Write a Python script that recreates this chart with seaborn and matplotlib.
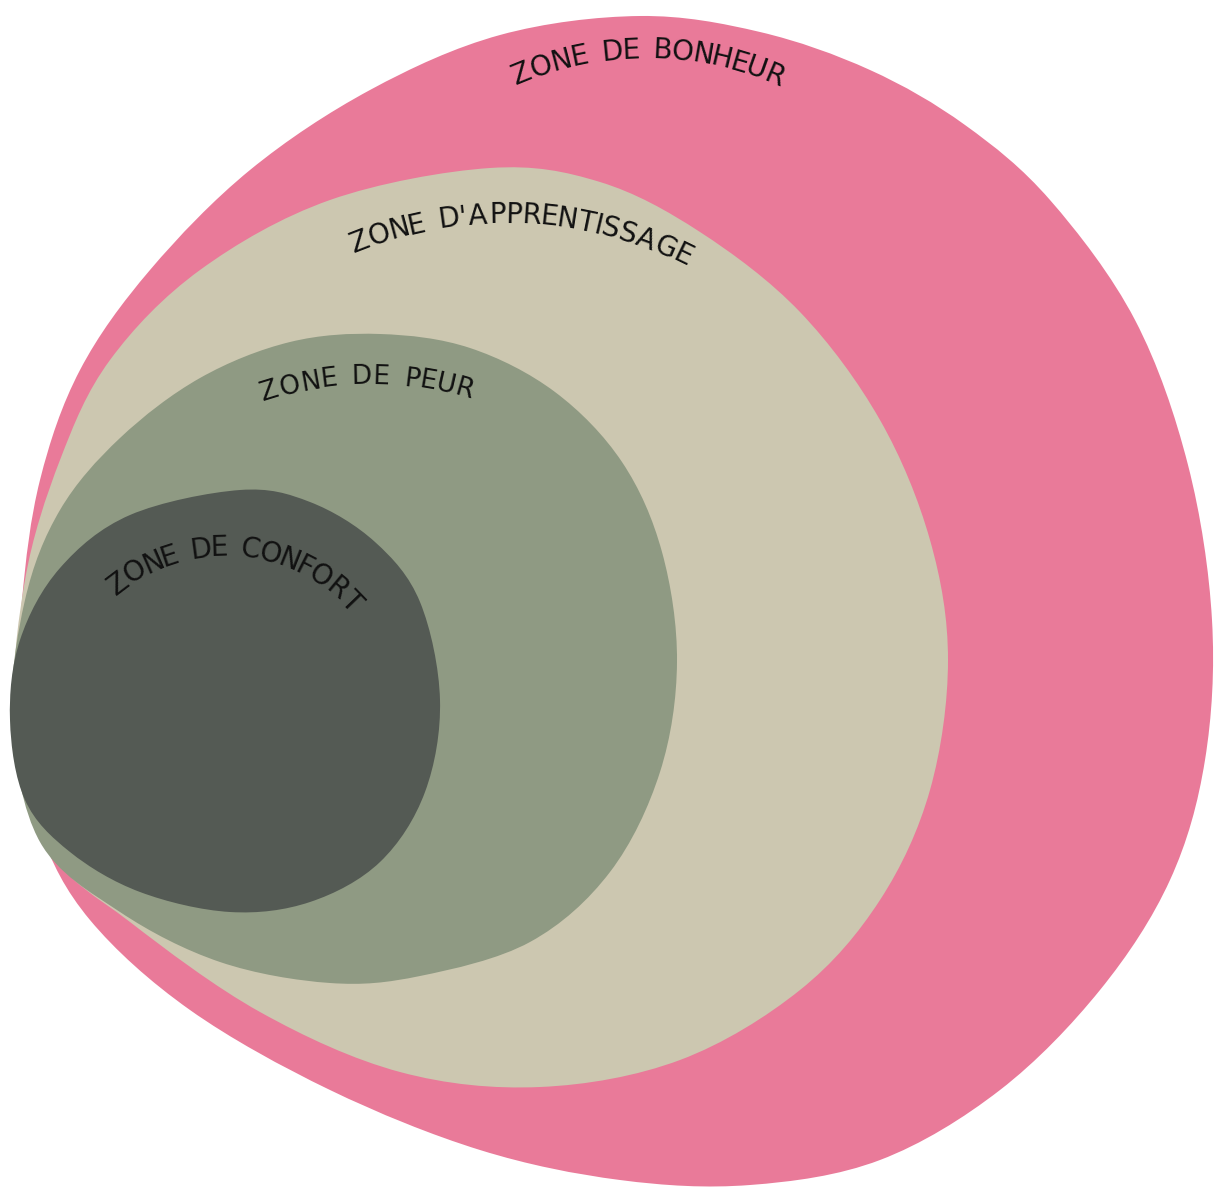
import numpy as np
import matplotlib
matplotlib.use("Agg")
import matplotlib.pyplot as plt
from matplotlib.path import Path
from matplotlib.patches import PathPatch
from matplotlib.textpath import TextPath
from matplotlib.font_manager import FontProperties
import seaborn as sns

# zone names, from outer to inner
zones = ["ZONE DE BONHEUR", "ZONE D'APPRENTISSAGE", "ZONE DE PEUR", "ZONE DE CONFORT"]
zone_colors = ["#E97A99", "#CCC7B0", "#8F9A83", "#545A54"]

# outlines (pixels, y down)
bonheur_x = [640, 760, 870, 965, 1050, 1135, 1188, 1212, 1205, 1170, 1100, 1000, 880, 750,
             620, 480, 330, 190, 90, 40, 18, 22, 40, 80, 150, 250, 370, 500]
bonheur_y = [16, 32, 70, 125, 200, 320, 465, 620, 760, 880, 990, 1090, 1160, 1185,
             1180, 1150, 1090, 1010, 920, 830, 720, 600, 480, 370, 270, 170, 90, 35]

apprent_x = [490, 600, 700, 800, 880, 930, 948, 930, 880, 800, 680, 540, 400, 260,
             130, 50, 15, 25, 60, 110, 200, 330]
apprent_y = [168, 182, 232, 312, 420, 540, 660, 790, 900, 990, 1060, 1087, 1072, 1012,
             922, 850, 720, 580, 460, 360, 270, 200]

peur_x = [380, 470, 555, 622, 662, 677, 660, 610, 530, 420, 330, 220, 120, 40,
          12, 25, 60, 120, 200, 290]
peur_y = [334, 348, 392, 462, 552, 662, 772, 872, 942, 976, 983, 962, 912, 842,
          720, 600, 510, 438, 378, 342]

confort_x = [240, 310, 375, 420, 440, 425, 380, 310, 230, 140, 70, 25, 10, 20, 60, 130]
confort_y = [490, 502, 542, 602, 700, 792, 862, 902, 912, 892, 852, 800, 720, 640, 568, 515]

outlines = [(bonheur_x, bonheur_y), (apprent_x, apprent_y),
            (peur_x, peur_y), (confort_x, confort_y)]

# label arcs: centre x, centre y, radius, start angle, end angle (deg from vertical)
label_cx = [645, 505, 370, 224]
label_cy = [380, 620, 720, 724]
label_r = [330, 405, 343, 176]
label_a0 = [-22, -21, -17, -37]
label_a1 = [23, 26, 16, 46]
label_size = [20, 20, 19, 20]


def smooth_path(xs, ys):
    pts = np.column_stack([xs, ys]).astype(float)
    n = len(pts)
    verts = [pts[0]]
    codes = [Path.MOVETO]
    for i in range(n):
        p0, p1, p2, p3 = pts[i - 1], pts[i], pts[(i + 1) % n], pts[(i + 2) % n]
        c1 = p1 + (p2 - p0) / 6.0
        c2 = p2 - (p3 - p1) / 6.0
        verts += [c1, c2, p2]
        codes += [Path.CURVE4] * 3
    verts.append(pts[0])
    codes.append(Path.CLOSEPOLY)
    return Path(verts, codes)


def arc_text(ax, text, cx, cy, r, a0, a1, size):
    fp = FontProperties(family="DejaVu Sans", size=size, weight="medium")
    widths = []
    for ch in text:
        if ch == " ":
            widths.append(size * 0.5)
        elif ch == "'":
            widths.append(size * 0.3)
        else:
            widths.append(TextPath((0, 0), ch, prop=fp).get_extents().width + size * 0.1)
    widths = np.array(widths)
    mids = np.cumsum(widths) - widths / 2
    frac = (mids - mids[0]) / (mids[-1] - mids[0])
    for ch, f in zip(text, frac):
        if ch == " ":
            continue
        a = np.radians(a0 + f * (a1 - a0))
        x = cx + r * np.sin(a)
        y = cy - r * np.cos(a)
        ax.text(x, y, ch, fontproperties=fp, color="#111111",
                rotation=-np.degrees(a), rotation_mode="anchor",
                ha="center", va="center", zorder=10)


sns.set_theme(style="white")
fig = plt.figure(figsize=(12.16, 11.88), dpi=100)
ax = fig.add_axes([0, 0, 1, 1])
ax.set_xlim(0, 1216)
ax.set_ylim(1188, 0)
ax.set_facecolor("white")

for (xs, ys), col in zip(outlines, zone_colors):
    ax.add_patch(PathPatch(smooth_path(xs, ys), facecolor=col, edgecolor="none"))

for i, name in enumerate(zones):
    arc_text(ax, name, label_cx[i], label_cy[i], label_r[i],
             label_a0[i], label_a1[i], label_size[i])

ax.set_axis_off()
sns.despine(left=True, bottom=True)
fig.savefig("out.png", dpi=100, facecolor="white")
